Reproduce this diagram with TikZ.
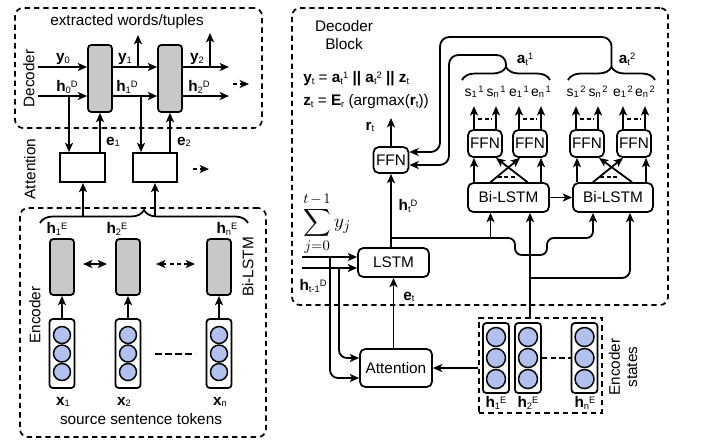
\documentclass[tikz,border=0pt]{standalone}
\usepackage{exscale}
\usepackage{fontspec}
\setmainfont{Liberation Sans}
\usetikzlibrary{arrows.meta,decorations.pathreplacing,calc}
\definecolor{cellgray}{RGB}{200,200,200}
\definecolor{nodeblue}{RGB}{178,192,238}
\newcommand{\mfs}{\fontsize{11.5}{13}\selectfont}
\newcommand{\lfs}{\fontsize{11.5}{13}\selectfont}
\newcommand{\sfs}{\fontsize{10.5}{12}\selectfont}
\newcommand{\vlab}[3]{\textbf{#1}{\fontsize{7}{8}\selectfont\raisebox{-0.35ex}{#2}\raisebox{0.9ex}{#3}}}
\newcommand{\slab}[3]{#1{\fontsize{7}{8}\selectfont\raisebox{-0.2ex}{#2}\,\raisebox{0.9ex}{#3}}}
\tikzset{
  ln/.style={line width=1.35pt},
  arr/.style={ln,-{Stealth[length=7pt,width=6pt,inset=1.8pt]}},
  darr/.style={arr,dash pattern=on 3pt off 2.5pt},
  dblarr/.style={ln,{Stealth[length=7pt,width=6pt,inset=1.8pt]}-{Stealth[length=7pt,width=6pt,inset=1.8pt]}},
  dbox/.style={draw,line width=1.3pt,dash pattern=on 4pt off 3pt,rounded corners=6pt,inner sep=0pt},
  gcell/.style={draw,fill=cellgray,rounded corners=2.5pt,line width=1.3pt,inner sep=0pt,minimum width=18pt},
  rbox/.style={draw,rounded corners=4pt,line width=1.3pt,inner sep=0pt,font=\mfs},
  sbox/.style={draw,line width=1.3pt,inner sep=0pt,minimum width=33.5pt,minimum height=21.75pt},
  stackbox/.style={draw,rounded corners=2.5pt,line width=1.3pt,inner sep=0pt},
  neur/.style={circle,draw,fill=nodeblue,line width=1.1pt,inner sep=0pt},
  lbl/.style={font=\lfs,inner sep=0pt},
  slbl/.style={font=\sfs,inner sep=0pt},
  txt/.style={font=\mfs,inner sep=0pt},
  brc/.style={ln,decorate,decoration={brace,amplitude=9.75pt}},
  smdash/.style={ln,dash pattern=on 3pt off 2pt},
}
\begin{document}
\begin{tikzpicture}[x=0.75pt,y=-0.75pt]
\useasboundingbox (0,0) rectangle (712,444);

% ===================== LEFT: Decoder =====================
\node[dbox,minimum width=185.25pt,minimum height=90pt] (decbox) at (138.5,68) {};
\node[txt] (extr) at (127,22) {extracted words/tuples};
\node[txt,rotate=90] (declbl) at (29,78.5) {Decoder};

\node[gcell,minimum height=50.25pt] (dcell1) at (100,78.5) {};
\node[gcell,minimum height=50.25pt] (dcell2) at (170,78.5) {};

\coordinate (y0s) at (38,67);
\coordinate (h0s) at (38,96);
\coordinate (y2e) at (229,67);
\coordinate (h2e) at (229,96);
\draw[arr] (y0s) -- (y0s -| dcell1.west);
\draw[arr] (h0s) -- (h0s -| dcell1.west);
\draw[arr] (y0s -| dcell1.east) -- (y0s -| dcell2.west);
\draw[arr] (h0s -| dcell1.east) -- (h0s -| dcell2.west);
\draw[arr] (y0s -| dcell2.east) -- (y2e);
\draw[arr] (h0s -| dcell2.east) -- (h2e);
\coordinate (out1) at (138,35);
\coordinate (out2) at (210,33);
\draw[arr] (out1 |- y0s) -- (out1);
\draw[arr] (out2 |- y0s) -- (out2);
\coordinate (dd1s) at (233,84);
\coordinate (dd1e) at (249,84);
\draw[darr] (dd1s) -- (dd1e);

\node[lbl] (ly0) at (63,59) {\vlab{y}{0}{}};
\node[lbl] (lh0) at (67,87) {\vlab{h}{0}{D}};
\node[lbl] (ly1) at (125,59) {\vlab{y}{1}{}};
\node[lbl] (lh1) at (127,87) {\vlab{h}{1}{D}};
\node[lbl] (ly2) at (197,59) {\vlab{y}{2}{}};
\node[lbl] (lh2) at (199,87) {\vlab{h}{2}{D}};

% ===================== LEFT: Attention =====================
\node[sbox] (att1) at (82.5,167.5) {};
\node[sbox] (att2) at (155,167.5) {};
\node[txt,rotate=90] (attlbl) at (30,169) {Attention};
\coordinate (hd0) at (69,96);
\coordinate (hd1) at (141,96);
\draw[arr] (hd0) -- (hd0 |- att1.north);
\draw[arr] (hd1) -- (hd1 |- att2.north);
\draw[arr] (dcell1.south |- att1.north) -- (dcell1.south);
\draw[arr] (dcell2.south |- att2.north) -- (dcell2.south);
\node[lbl] (le1) at (113,142) {\vlab{e}{1}{}};
\node[lbl] (le2) at (184,142) {\vlab{e}{2}{}};
\coordinate (dd2s) at (193,169);
\coordinate (dd2e) at (209,169);
\draw[darr] (dd2s) -- (dd2e);

% ===================== LEFT: Encoder =====================
\node[dbox,minimum width=184.5pt,minimum height=171.75pt] (encbox) at (143,322.5) {};
\draw[brc] (40,223) -- (248,223);
\coordinate (br1) at (83,217);
\coordinate (br2) at (155,217);
\draw[arr] (br1) -- (br1 |- att1.south);
\draw[arr] (br2) -- (br2 |- att2.south);

\node[lbl] (lhe1) at (57,229) {\vlab{h}{1}{E}};
\node[lbl] (lhe2) at (117,229) {\vlab{h}{2}{E}};
\node[lbl] (lhen) at (227,229) {\vlab{h}{n}{E}};

\node[gcell,minimum height=42pt] (ecell1) at (62,267) {};
\node[gcell,minimum height=42pt] (ecell2) at (128,267) {};
\node[gcell,minimum height=42pt] (ecell3) at (219,267) {};
\node[txt,rotate=90] (bilbl) at (248,267) {Bi-LSTM};
\node[txt,rotate=90] (enclbl) at (35,315) {Encoder};

\coordinate (da1) at (83,264);
\coordinate (da2) at (107,264);
\draw[dblarr] (da1) -- (da2);
\coordinate (da3) at (156,264);
\coordinate (da4) at (195,264);
\draw[dblarr,dash pattern=on 3pt off 2.5pt] (da3) -- (da4);

\foreach \n/\x in {1/62,2/128,3/219}{
  \node[stackbox,minimum width=18.75pt,minimum height=51.75pt] (tok\n) at (\x,353.5) {};
  \node[neur,minimum size=12.75pt] (tok\n a) at (\x,335) {};
  \node[neur,minimum size=12.75pt] (tok\n b) at (\x,353.5) {};
  \node[neur,minimum size=12.75pt] (tok\n c) at (\x,372) {};
  \draw[arr] (tok\n.north) -- (ecell\n.south);
}
\coordinate (td1) at (155,354);
\coordinate (td2) at (195,354);
\draw[ln,dash pattern=on 5pt off 2.5pt] (td1) -- (td2);

\node[lbl] (lx1) at (63,402) {\vlab{x}{1}{}};
\node[lbl] (lx2) at (124,402) {\vlab{x}{2}{}};
\node[lbl] (lxn) at (220,402) {\vlab{x}{n}{}};
\node[txt] (srclbl) at (141,419) {source sentence tokens};

% ===================== RIGHT: Decoder Block =====================
\node[dbox,minimum width=282pt,minimum height=222.75pt] (decblk) at (480,156.5) {};
\node[txt,align=center] (dblbl) at (344,35) {Decoder\\[1pt]Block};
\node[txt,anchor=west] (eq1) at (303,79) {\vlab{y}{t}{} = \vlab{a}{t}{1} \textbf{||} \vlab{a}{t}{2} \textbf{||} \vlab{z}{t}{}};
\node[txt,anchor=west] (eq2) at (303,102) {\vlab{z}{t}{} = \vlab{E}{r}{} (argmax(\vlab{r}{t}{}))};

\node[rbox,minimum width=26.25pt,minimum height=19.5pt] (ffn) at (391,160) {FFN};
\node[rbox,minimum width=53.25pt,minimum height=21.75pt] (lstm) at (393.5,262.5) {LSTM};
\node[rbox,minimum width=54pt,minimum height=28.5pt] (attn) at (396,368) {Attention};

\coordinate (rt) at (391,118);
\draw[arr] (ffn.north) -- (rt);
\node[lbl] (lrt) at (370,127) {\vlab{r}{t}{}};
\draw[arr] (ffn.south |- lstm.north) -- (ffn.south);
\node[lbl] (lht) at (408,206) {\vlab{h}{t}{D}};
\draw[arr] (lstm.south |- attn.north) -- (lstm.south);
\node[lbl] (let) at (409,297) {\vlab{e}{t}{}};

\coordinate (in1) at (302,257);
\coordinate (in2) at (302,268);
\draw[arr] (in1) -- (in1 -| lstm.west);
\draw[arr] (in2) -- (in2 -| lstm.west);
\coordinate (j1) at (330,257);
\coordinate (j2) at (339,268);
\draw[arr,rounded corners=6pt] (j1) |- ($(attn.west)+(0,10)$);
\draw[arr,rounded corners=6pt] (j2) |- ($(attn.west)+(0,-10)$);
\node[inner sep=0pt] (sumy) at (327,224) {\fontsize{15}{17}\selectfont$\displaystyle\sum_{j=0}^{t\mkern2mu-\mkern2mu1} y_j$};
\node[lbl] (lhtm) at (313,286) {\vlab{h}{t-1}{D}};

% small FFNs and Bi-LSTMs
\foreach \n/\x in {1/485,2/530,3/587,4/634}{
  \node[rbox,minimum width=25.5pt,minimum height=20.25pt] (f\n) at (\x,143.5) {FFN};
  \draw[arr] ($(f\n.north)+(-11,0)$) -- ++(0,-23);
  \draw[arr] ($(f\n.north)+(11,0)$) -- ++(0,-23);
  \draw[smdash] ($(f\n.north)+(-7,-10)$) -- ($(f\n.north)+(7,-10)$);
}
\node[rbox,minimum width=60.75pt,minimum height=21.75pt] (b1) at (508.5,197.5) {Bi-LSTM};
\node[rbox,minimum width=60pt,minimum height=21.75pt] (b2) at (613,197.5) {Bi-LSTM};
\draw[arr] (b1.east) -- (b2.west);

\coordinate (f1l) at ($(f1.south)+(-11,0)$);
\coordinate (f2r) at ($(f2.south)+(11,0)$);
\draw[arr] (f1l |- b1.north) -- (f1l);
\draw[arr] (f2r |- b1.north) -- (f2r);
\draw[arr] ($(b1.north)+(-18,0)$) -- ($(f2.south)+(-10,0)$);
\draw[arr] ($(b1.north)+(19,0)$) -- ($(f1.south)+(11,0)$);
\draw[smdash] ($(b1.north)+(-11,-5)$) -- ($(b1.north)+(7,-5)$);

\coordinate (f3l) at ($(f3.south)+(-10,0)$);
\coordinate (f4r) at ($(f4.south)+(12,0)$);
\draw[arr] (f3l |- b2.north) -- (f3l);
\draw[arr] (f4r |- b2.north) -- (f4r);
\draw[arr] ($(b2.north)+(-20,0)$) -- ($(f4.south)+(-11,0)$);
\draw[arr] ($(b2.north)+(19,0)$) -- ($(f3.south)+(12,0)$);
\draw[smdash] ($(b2.north)+(-13,-5)$) -- ($(b2.north)+(6,-5)$);

% s/e labels
\node[slbl] (s11) at (474,92) {\slab{s}{1}{1}};
\node[slbl] (sn1) at (496,92) {\slab{s}{n}{1}};
\node[slbl] (e11) at (519,92) {\slab{e}{1}{1}};
\node[slbl] (en1) at (541,92) {\slab{e}{n}{1}};
\node[slbl] (s12) at (576,92) {\slab{s}{1}{2}};
\node[slbl] (sn2) at (598,92) {\slab{s}{n}{2}};
\node[slbl] (e12) at (623,92) {\slab{e}{1}{2}};
\node[slbl] (en2) at (645,92) {\slab{e}{n}{2}};

% braces a_t
\draw[brc] (462,80) -- (550,80);
\draw[brc] (568,80) -- (655,80);
\coordinate (c1) at (506,67);
\coordinate (c2) at (611.5,67);
\node[lbl] (lat1) at (525,59) {\vlab{a}{t}{1}};
\node[lbl] (lat2) at (627,59) {\vlab{a}{t}{2}};
\coordinate (o1) at (440,37);
\coordinate (i1) at (449,55);
\draw[arr,rounded corners=7pt] (c2) |- (o1) |- ($(ffn.east)+(0,-8)$);
\draw[arr,rounded corners=7pt] (c1) |- (i1) |- ($(ffn.east)+(0,5)$);

% encoder states
\node[draw,line width=1.3pt,dash pattern=on 4pt off 3pt,inner sep=0pt,minimum width=92.25pt,minimum height=71.25pt] (esbox) at (540.5,365.5) {};
\foreach \n/\x in {1/496,2/528,3/584.5}{
  \node[stackbox,minimum width=19.5pt,minimum height=52.5pt] (es\n) at (\x,358) {};
  \node[neur,minimum size=14.25pt] (es\n a) at (\x,337) {};
  \node[neur,minimum size=14.25pt] (es\n b) at (\x,358) {};
  \node[neur,minimum size=14.25pt] (es\n c) at (\x,379) {};
}
\draw[ln,dash pattern=on 4pt off 2.5pt] (es2.east) -- (es3.west);
\node[lbl] (lse1) at (496,403) {\vlab{h}{1}{E}};
\node[lbl] (lse2) at (528,403) {\vlab{h}{2}{E}};
\node[lbl] (lsen) at (585,403) {\vlab{h}{n}{E}};
\node[txt,rotate=90,align=center] (eslbl) at (623,367) {Encoder\\states};
\draw[arr] (esbox.west |- attn.east) -- (attn.east);

% inputs to Bi-LSTMs
\coordinate (hj) at (391,238);
\coordinate (b1in) at ($(b1.south)+(-18,0)$);
\coordinate (b2in) at ($(b2.south)+(-20,0)$);
\coordinate (bp1) at (515,238);
\coordinate (bp2) at (515,255);
\coordinate (bp3) at (547,255);
\coordinate (bp4) at (547,238);
\draw[arr,rounded corners=5pt] (hj) -- (bp1) -- (bp2) -- (bp3) -- (bp4) -- (b2in |- hj) -- (b2in);
\draw[arr] (b1in |- hj) -- (b1in);
\coordinate (b1in2) at ($(b1.south)+(21.5,0)$);
\coordinate (b2in2) at ($(b2.south)+(17,0)$);
\coordinate (brj) at (530,278);
\draw[arr] (b1in2 |- esbox.north) -- (b1in2);
\draw[arr,rounded corners=6pt] (brj) -| (b2in2);
\end{tikzpicture}
\end{document}
